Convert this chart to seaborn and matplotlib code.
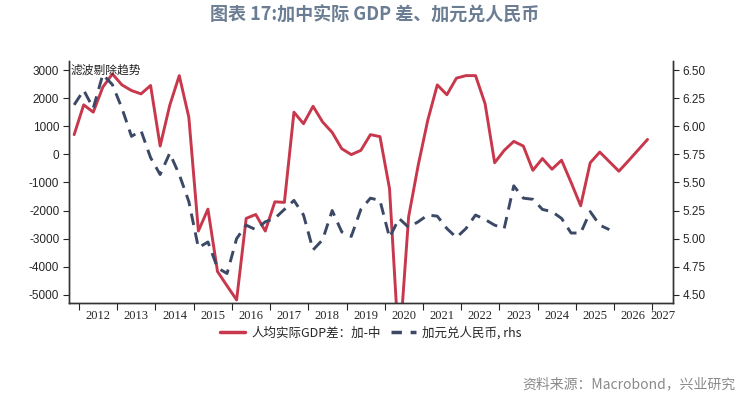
import numpy as np
import pandas as pd
import seaborn as sns
import matplotlib.pyplot as plt
from matplotlib.lines import Line2D

# quarterly, starting 2011Q4
gdp_gap = [700, 1760, 1500, 2390, 2860, 2470, 2270, 2150, 2450, 295,
           1740, 2800, 1320, -2730, -1950, -4170, -4680, -5180, -2280, -2140,
           -2730, -1690, -1710, 1500, 1090, 1710, 1150, 780, 200, -10,
           140, 700, 630, -1220, -7000, -2220, -390, 1210, 2470, 2120,
           2710, 2800, 2800, 1800, -300, 140, 460, 295, -570, -150,
           -530, -210, -1000, -1830, -300, 80, -260, -600, -230, 150,
           530]
cad_cny = [6.19, 6.32, 6.16, 6.46, 6.37, 6.16, 5.91, 5.96, 5.72, 5.57,
           5.76, 5.57, 5.33, 4.92, 4.97, 4.74, 4.69, 5.00, 5.12, 5.08,
           5.15, 5.18, 5.26, 5.34, 5.21, 4.90, 4.99, 5.25, 5.06, 5.02,
           5.26, 5.36, 5.34, 5.01, 5.18, 5.10, 5.15, 5.21, 5.20, 5.09,
           5.01, 5.09, 5.21, 5.17, 5.12, 5.09, 5.47, 5.36, 5.35, 5.26,
           5.24, 5.18, 5.05, 5.05, 5.24, 5.12, 5.08]
years = list(range(2012, 2028))
left_ticks = [3000, 2000, 1000, 0, -1000, -2000, -3000, -4000, -5000]
right_ticks = [6.50, 6.25, 6.00, 5.75, 5.50, 5.25, 5.00, 4.75, 4.50]

RED = "#c8384c"
BLUE = "#3b4966"

q = pd.period_range("2011Q4", periods=len(gdp_gap), freq="Q")
t = q.year + (q.quarter - 1) / 4 + 0.125
df_gdp = pd.DataFrame({"t": t, "v": gdp_gap})
df_fx = pd.DataFrame({"t": t[:len(cad_cny)], "v": cad_cny})

sns.set_style("ticks")
plt.rcParams["font.family"] = ["Noto Sans CJK SC", "DejaVu Sans"]

fig = plt.figure(figsize=(7.49, 3.98), dpi=100)
ax = fig.add_axes([0.0921, 0.2387, 0.8064, 0.608])
ax2 = ax.twinx()

sns.lineplot(data=df_gdp, x="t", y="v", ax=ax, color=RED, lw=2.1)
sns.lineplot(data=df_fx, x="t", y="v", ax=ax2, color=BLUE, lw=2.1,
             dashes=False, linestyle=(0, (4, 2.6)))

xmin, xmax = 2011.74, 2027.54
ax.set_xlim(xmin, xmax)
ax.set_ylim(-5290, 3320)
ax2.set_ylim(4.4275, 6.58)

ax.set_yticks(left_ticks)
ax.set_yticklabels([str(v) for v in left_ticks], family="Liberation Sans", fontsize=8.5)
ax2.set_yticks(right_ticks)
ax2.set_yticklabels([f"{v:.2f}" for v in right_ticks], family="Liberation Sans", fontsize=8.5)

ax.set_xticks(years)
ax.set_xticklabels([])
mids = [y + 0.5 for y in years[:-1]] + [(years[-1] + xmax) / 2]
ax.set_xticks(mids, minor=True)
ax.set_xticklabels([str(y) for y in years], minor=True, family="Liberation Serif", fontsize=9)
ax.tick_params(axis="x", which="minor", length=0, pad=5)
ax.tick_params(axis="x", which="major", length=5, direction="out")
ax.tick_params(axis="y", length=4, pad=3)
ax2.tick_params(axis="y", length=4, pad=3)

for a in (ax, ax2):
    a.set_xlabel("")
    a.set_ylabel("")
    a.spines["top"].set_visible(False)
    for s in ("left", "right", "bottom"):
        a.spines[s].set_color("#333333")
        a.spines[s].set_linewidth(1.0)
ax2.spines["right"].set_visible(True)

ax.text(2011.78, 3000, "滤波剔除趋势", fontsize=8.5, color="#222222", va="center")

fig.text(0.5, 0.962, "图表 17:加中实际 GDP 差、加元兑人民币", ha="center", va="center",
         fontsize=13, fontweight="bold", color="#6b7d92")

handles = [Line2D([], [], color=RED, lw=2.5),
           Line2D([], [], color=BLUE, lw=2.5, linestyle=(0, (3, 2.5)))]
fig.legend(handles, ["人均实际GDP差：加-中", "加元兑人民币, rhs"],
           loc="center", bbox_to_anchor=(0.495, 0.163), ncol=2, frameon=False,
           fontsize=9, handlelength=2.0, columnspacing=0.8, handletextpad=0.5)

fig.text(0.982, 0.035, "资料来源：Macrobond，兴业研究", ha="right", va="center",
         fontsize=10, color="#8a8a8a")

fig.savefig("out.png", dpi=100)
